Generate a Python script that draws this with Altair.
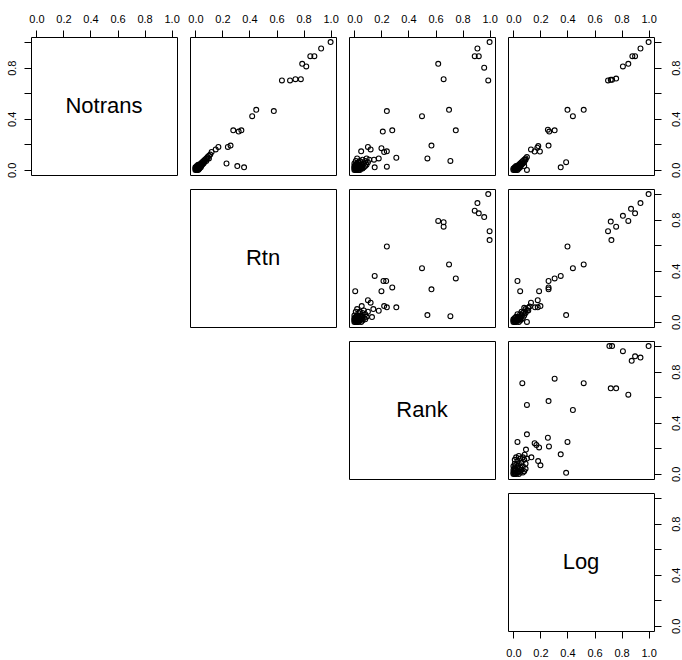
import altair as alt
import pandas as pd

VARS = ["Notrans", "Rtn", "Rank", "Log"]
TICKS = [0.0, 0.2, 0.4, 0.6, 0.8, 1.0]

# Panel (row Notrans, col Rtn): x = Rtn, y = Notrans
notrans_rtn_outer = [(1.0, 1.0), (0.93, 0.95), (0.85, 0.89), (0.88, 0.89), (0.79, 0.83), (0.82, 0.81),
                     (0.64, 0.70), (0.70, 0.70), (0.74, 0.71), (0.78, 0.71), (0.45, 0.47), (0.42, 0.42),
                     (0.58, 0.46), (0.28, 0.31), (0.32, 0.30), (0.34, 0.31), (0.24, 0.18), (0.26, 0.19),
                     (0.17, 0.18), (0.15, 0.16), (0.12, 0.14), (0.23, 0.05), (0.31, 0.03), (0.36, 0.02)]
notrans_rtn_cluster = [(0.00, 0.00), (0.01, 0.00), (0.02, 0.00), (0.00, 0.01), (0.01, 0.01), (0.02, 0.01),
                       (0.03, 0.01), (0.00, 0.02), (0.01, 0.02), (0.02, 0.02), (0.03, 0.02), (0.04, 0.02),
                       (0.01, 0.03), (0.02, 0.03), (0.03, 0.03), (0.04, 0.03), (0.02, 0.04), (0.03, 0.04),
                       (0.05, 0.04), (0.04, 0.05), (0.05, 0.05), (0.06, 0.05), (0.05, 0.06), (0.06, 0.07),
                       (0.07, 0.07), (0.07, 0.08), (0.08, 0.09), (0.09, 0.09), (0.09, 0.10), (0.10, 0.11),
                       (0.11, 0.12), (0.10, 0.09), (0.005, 0.005), (0.015, 0.015), (0.025, 0.005),
                       (0.035, 0.025), (0.045, 0.035), (0.065, 0.06), (0.08, 0.07)]

# Panel (row Notrans, col Rank): x = Rank, y = Notrans
notrans_rank_outer = [(1.0, 1.0), (0.91, 0.95), (0.89, 0.89), (0.92, 0.89), (0.96, 0.80), (0.99, 0.70),
                      (0.62, 0.83), (0.66, 0.71), (0.24, 0.46), (0.50, 0.42), (0.70, 0.47), (0.21, 0.30),
                      (0.28, 0.31), (0.75, 0.31), (0.57, 0.19), (0.54, 0.09), (0.71, 0.07), (0.24, 0.025),
                      (0.31, 0.095), (0.20, 0.17), (0.24, 0.145), (0.22, 0.14), (0.10, 0.18), (0.12, 0.16),
                      (0.05, 0.145), (0.18, 0.09), (0.145, 0.08), (0.11, 0.08), (0.15, 0.02)]
notrans_rank_cluster = [(0.00, 0.00), (0.01, 0.00), (0.02, 0.00), (0.03, 0.00), (0.04, 0.00), (0.00, 0.01),
                        (0.01, 0.01), (0.02, 0.01), (0.03, 0.01), (0.05, 0.01), (0.06, 0.01), (0.00, 0.02),
                        (0.01, 0.02), (0.02, 0.02), (0.04, 0.02), (0.07, 0.02), (0.00, 0.03), (0.02, 0.03),
                        (0.03, 0.03), (0.05, 0.03), (0.08, 0.03), (0.01, 0.04), (0.04, 0.04), (0.06, 0.04),
                        (0.09, 0.04), (0.00, 0.05), (0.02, 0.05), (0.07, 0.05), (0.03, 0.06), (0.05, 0.06),
                        (0.10, 0.06), (0.01, 0.07), (0.04, 0.07), (0.08, 0.07), (0.06, 0.08), (0.02, 0.09),
                        (0.09, 0.09), (0.015, 0.005), (0.035, 0.015), (0.055, 0.025), (0.025, 0.035)]

# Panel (row Notrans, col Log): x = Log, y = Notrans
notrans_log_outer = [(1.0, 1.0), (0.94, 0.95), (0.88, 0.89), (0.90, 0.89), (0.85, 0.83), (0.81, 0.81),
                     (0.70, 0.70), (0.72, 0.705), (0.73, 0.705), (0.76, 0.715), (0.40, 0.47), (0.44, 0.42),
                     (0.52, 0.47), (0.255, 0.315), (0.265, 0.30), (0.305, 0.31), (0.26, 0.19), (0.184, 0.186),
                     (0.177, 0.174), (0.157, 0.144), (0.196, 0.144), (0.13, 0.16), (0.35, 0.02), (0.39, 0.06),
                     (0.10, 0.0)]
notrans_log_cluster = [(0.00, 0.00), (0.01, 0.00), (0.02, 0.00), (0.03, 0.00), (0.00, 0.01), (0.01, 0.01),
                       (0.02, 0.01), (0.03, 0.01), (0.04, 0.01), (0.01, 0.02), (0.02, 0.02), (0.03, 0.02),
                       (0.04, 0.02), (0.05, 0.02), (0.02, 0.03), (0.03, 0.03), (0.05, 0.03), (0.06, 0.04),
                       (0.04, 0.04), (0.05, 0.05), (0.07, 0.05), (0.06, 0.06), (0.08, 0.06), (0.07, 0.07),
                       (0.08, 0.08), (0.09, 0.08), (0.09, 0.09), (0.10, 0.10), (0.08, 0.03), (0.015, 0.005),
                       (0.035, 0.015), (0.045, 0.03), (0.065, 0.05)]

# Panel (row Rtn, col Rank): x = Rank, y = Rtn
rtn_rank_outer = [(0.99, 1.0), (0.91, 0.93), (0.89, 0.87), (0.92, 0.85), (0.96, 0.82), (1.0, 0.71),
                  (1.0, 0.64), (0.62, 0.79), (0.66, 0.78), (0.66, 0.745), (0.24, 0.59), (0.50, 0.42),
                  (0.70, 0.45), (0.75, 0.34), (0.57, 0.255), (0.54, 0.053), (0.71, 0.045), (0.15, 0.36),
                  (0.215, 0.32), (0.235, 0.32), (0.28, 0.27), (0.20, 0.24), (0.006, 0.24), (0.31, 0.114),
                  (0.24, 0.114), (0.22, 0.124), (0.10, 0.17), (0.12, 0.15), (0.054, 0.124), (0.14, 0.10),
                  (0.18, 0.087), (0.13, 0.038)]
rtn_rank_cluster = [(0.00, 0.00), (0.01, 0.00), (0.02, 0.00), (0.03, 0.00), (0.05, 0.00), (0.00, 0.01),
                    (0.01, 0.01), (0.02, 0.01), (0.04, 0.01), (0.06, 0.01), (0.00, 0.02), (0.01, 0.02),
                    (0.03, 0.02), (0.05, 0.02), (0.08, 0.02), (0.00, 0.03), (0.02, 0.03), (0.04, 0.03),
                    (0.07, 0.03), (0.01, 0.04), (0.03, 0.04), (0.06, 0.04), (0.09, 0.04), (0.00, 0.05),
                    (0.02, 0.05), (0.05, 0.05), (0.08, 0.06), (0.03, 0.07), (0.06, 0.07), (0.01, 0.08),
                    (0.04, 0.08), (0.07, 0.09), (0.10, 0.08), (0.02, 0.10), (0.015, 0.005), (0.035, 0.015),
                    (0.025, 0.035), (0.045, 0.045)]

# Panel (row Rtn, col Log): x = Log, y = Rtn
rtn_log_outer = [(1.0, 1.0), (0.94, 0.93), (0.87, 0.885), (0.90, 0.85), (0.81, 0.83), (0.85, 0.79),
                 (0.72, 0.785), (0.76, 0.745), (0.70, 0.71), (0.725, 0.64), (0.40, 0.59), (0.44, 0.42),
                 (0.52, 0.45), (0.35, 0.36), (0.305, 0.34), (0.26, 0.32), (0.26, 0.27), (0.26, 0.255),
                 (0.19, 0.24), (0.05, 0.24), (0.03, 0.32), (0.13, 0.15), (0.18, 0.17), (0.18, 0.114),
                 (0.16, 0.114), (0.20, 0.124), (0.39, 0.053), (0.10, 0.0)]
rtn_log_cluster = [(0.00, 0.00), (0.01, 0.00), (0.02, 0.00), (0.04, 0.00), (0.00, 0.01), (0.01, 0.01),
                   (0.03, 0.01), (0.05, 0.01), (0.00, 0.02), (0.02, 0.02), (0.04, 0.02), (0.06, 0.02),
                   (0.01, 0.03), (0.03, 0.03), (0.05, 0.03), (0.07, 0.03), (0.02, 0.04), (0.04, 0.04),
                   (0.06, 0.05), (0.08, 0.05), (0.03, 0.06), (0.05, 0.06), (0.07, 0.07), (0.09, 0.07),
                   (0.06, 0.08), (0.08, 0.08), (0.10, 0.09), (0.09, 0.10), (0.11, 0.11), (0.12, 0.12),
                   (0.08, 0.11), (0.11, 0.09), (0.015, 0.005), (0.025, 0.015), (0.035, 0.025)]

# Panel (row Rank, col Log): x = Log, y = Rank
rank_log_outer = [(0.71, 1.0), (0.73, 1.0), (1.0, 1.0), (0.81, 0.96), (0.90, 0.92), (0.875, 0.885),
                  (0.94, 0.91), (0.72, 0.67), (0.76, 0.67), (0.85, 0.62), (0.066, 0.71), (0.305, 0.745),
                  (0.52, 0.71), (0.10, 0.54), (0.26, 0.57), (0.44, 0.50), (0.10, 0.31), (0.03, 0.25),
                  (0.157, 0.24), (0.17, 0.226), (0.19, 0.207), (0.255, 0.283), (0.263, 0.215), (0.40, 0.25),
                  (0.35, 0.153), (0.093, 0.19), (0.083, 0.15), (0.133, 0.13), (0.183, 0.10), (0.20, 0.067),
                  (0.39, 0.008)]
rank_log_cluster = [(0.00, 0.00), (0.01, 0.00), (0.02, 0.00), (0.04, 0.00), (0.00, 0.01), (0.01, 0.02),
                    (0.03, 0.01), (0.05, 0.01), (0.00, 0.03), (0.02, 0.03), (0.04, 0.02), (0.07, 0.01),
                    (0.01, 0.04), (0.03, 0.05), (0.06, 0.03), (0.08, 0.02), (0.00, 0.06), (0.02, 0.07),
                    (0.05, 0.05), (0.09, 0.04), (0.01, 0.08), (0.04, 0.08), (0.07, 0.06), (0.03, 0.10),
                    (0.06, 0.09), (0.09, 0.08), (0.01, 0.11), (0.05, 0.12), (0.08, 0.11), (0.02, 0.13),
                    (0.04, 0.14), (0.07, 0.13), (0.10, 0.12), (0.015, 0.005), (0.025, 0.015),
                    (0.005, 0.045), (0.035, 0.065)]

PANELS = {
    (0, 1): notrans_rtn_outer + notrans_rtn_cluster,
    (0, 2): notrans_rank_outer + notrans_rank_cluster,
    (0, 3): notrans_log_outer + notrans_log_cluster,
    (1, 2): rtn_rank_outer + rtn_rank_cluster,
    (1, 3): rtn_log_outer + rtn_log_cluster,
    (2, 3): rank_log_outer + rank_log_cluster,
}

W, H = 146, 138
DOM = [-0.04, 1.04]
FONT = "Liberation Sans"
LABEL_SIZE = 11

common_axis = dict(values=TICKS, format=".1f", domain=False, grid=False, ticks=True,
                   tickSize=7, tickColor="black", tickWidth=1, labelFont=FONT,
                   labelFontSize=LABEL_SIZE, labelColor="black", labelOverlap=False,
                   labelFlush=False, title=None)

Y_LABEL_EXPR = "indexof(['0.0','0.4','0.8'], datum.label) >= 0 ? datum.label : ''"


def x_enc(orient):
    scale = alt.Scale(domain=DOM, nice=False, zero=False)
    if orient is None:
        return alt.X("x:Q", scale=scale, axis=None)
    pad = 6 if orient == "top" else 9
    return alt.X("x:Q", scale=scale,
                 axis=alt.Axis(orient=orient, labelPadding=pad, **common_axis))


def y_enc(orient):
    scale = alt.Scale(domain=DOM, nice=False, zero=False)
    if orient is None:
        return alt.Y("y:Q", scale=scale, axis=None)
    baseline = "bottom" if orient == "left" else "top"
    pad = 7 if orient == "left" else 9
    return alt.Y("y:Q", scale=scale,
                 axis=alt.Axis(orient=orient, labelAngle=270, labelAlign="center",
                               labelBaseline=baseline, labelPadding=pad,
                               labelExpr=Y_LABEL_EXPR, **common_axis))


cells = []
for i in range(4):
    for j in range(4):
        xo = "top" if i == 0 else ("bottom" if (i == 3 and j == 3) else None)
        yo = "left" if (j == 0 and i == 0) else ("right" if j == 3 else None)
        if i == j:
            df = pd.DataFrame({"x": [0.5], "y": [0.5], "t": [VARS[i]]})
            c = alt.Chart(df).mark_text(font=FONT, fontSize=22, color="black").encode(
                x=x_enc(xo), y=y_enc(yo), text="t:N"
            ).properties(width=W, height=H)
        elif j > i:
            pts = PANELS[(i, j)]
            df = pd.DataFrame({"x": [p[0] for p in pts], "y": [p[1] for p in pts]})
            c = alt.Chart(df).mark_point(shape="circle", filled=False, color="black",
                                         size=24, strokeWidth=1.1, opacity=1).encode(
                x=x_enc(xo), y=y_enc(yo)
            ).properties(width=W, height=H)
        else:
            df = pd.DataFrame({"x": [0.5], "y": [0.5]})
            c = alt.Chart(df).mark_point(opacity=0).encode(
                x=x_enc(None), y=y_enc(None)
            ).properties(width=W, height=H, view=alt.ViewBackground(stroke="transparent"))
        cells.append(c)

chart = alt.concat(*cells, columns=4, spacing={"row": 14, "column": 13}).properties(
    bounds="flush",
    padding={"left": 5, "top": 12, "right": 0, "bottom": 5},
    background="white",
).configure_view(stroke="black", strokeWidth=1)

chart.save("out.html", embed_options={"renderer": "svg", "actions": False})
